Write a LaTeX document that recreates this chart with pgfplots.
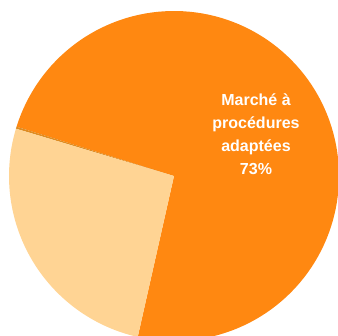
\documentclass[border=0pt]{standalone}
\usepackage{pgfplots}
\usepackage{pgfplotstable}
\pgfplotsset{compat=1.18}
\usepackage{fontspec}
\setmainfont{Liberation Sans}
\definecolor{cbig}{HTML}{FF8811}
\definecolor{cthin}{HTML}{DE8C22}
\definecolor{clight}{HTML}{FFD494}
% slice values (percent), drawn counter-clockwise from the start angle
\pgfplotstableread{
label value
mapa 73.7
autre 0.2
ao 26.1
}\slices
\pgfplotstablegetelem{0}{value}\of\slices \let\va\pgfplotsretval
\pgfplotstablegetelem{1}{value}\of\slices \let\vb\pgfplotsretval
\pgfplotstablegetelem{2}{value}\of\slices \let\vc\pgfplotsretval
\pgfmathsetmacro\sa{-102.7}
\pgfmathsetmacro\sb{\sa+3.6*\va}
\pgfmathsetmacro\sc{\sb+3.6*\vb}
\pgfmathsetmacro\sd{\sc+3.6*\vc}
\begin{document}
\begin{tikzpicture}
\path[use as bounding box] (0,0) rectangle (338pt,336pt);
\begin{axis}[
  at={(0,0)}, anchor=south west,
  x=1pt, y=1pt, xmin=0, xmax=338, ymin=0, ymax=336,
  hide axis, clip=true, scale only axis,
]
\def\cx{174}\def\cy{160}\def\R{165}
\addplot[draw=none, fill=cbig, domain=\sa:\sb, samples=120, variable=\t]
  ({\cx+\R*cos(t)}, {\cy+\R*sin(t)}) -- (axis cs:\cx,\cy) -- cycle;
\addplot[draw=none, fill=cthin, domain=\sb:\sc, samples=5, variable=\t]
  ({\cx+\R*cos(t)}, {\cy+\R*sin(t)}) -- (axis cs:\cx,\cy) -- cycle;
\addplot[draw=none, fill=clight, domain=\sc:\sd, samples=60, variable=\t]
  ({\cx+\R*cos(t)}, {\cy+\R*sin(t)}) -- (axis cs:\cx,\cy) -- cycle;
\node[text=white, font=\bfseries\fontsize{16}{23}\selectfont, align=center]
  at (axis cs:256,202) {Marché à\\procédures\\adaptées\\73\%};
\end{axis}
\end{tikzpicture}
\end{document}
